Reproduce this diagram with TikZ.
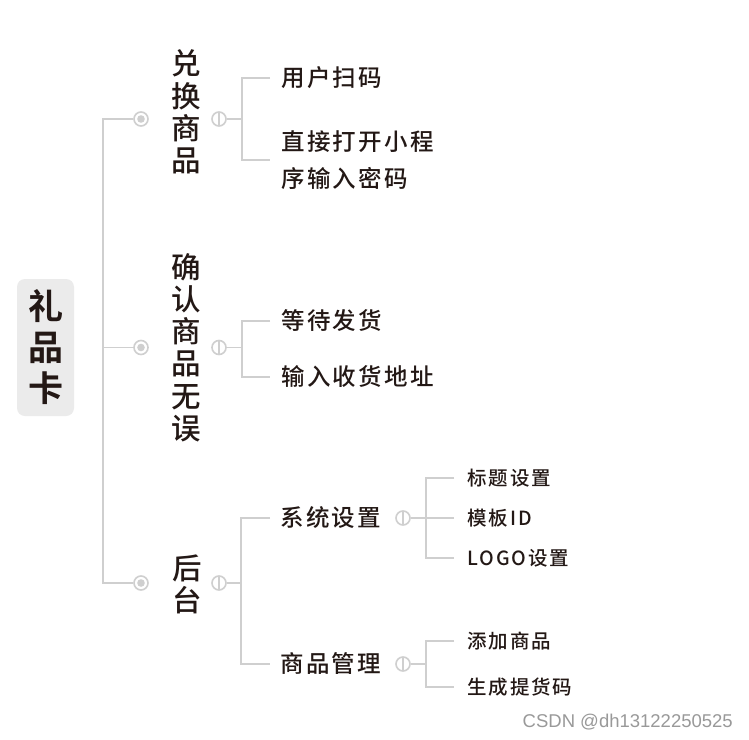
\documentclass[tikz,border=0pt]{standalone}
\usepackage{fontspec}
\setmainfont{Liberation Sans}
\newfontfamily\cjk{Noto Sans CJK SC}[UprightFont={* Medium}, BoldFont={* Bold}]
\newfontfamily\cjkwide{Noto Sans CJK SC}[UprightFont={* Medium}, LetterSpace=10]
\newfontfamily\cjksmall{Noto Sans CJK SC}[UprightFont={* Medium}, LetterSpace=10]
\usetikzlibrary{calc}
\definecolor{ink}{HTML}{231815}
\definecolor{linegray}{HTML}{CFCFCF}
\definecolor{rootgray}{HTML}{EBEBEB}
\definecolor{wmgray}{HTML}{999999}

\begin{document}
\begin{tikzpicture}[x=1pt,y=-1pt,
    link/.style={draw=linegray, line width=1.6pt},
    dotmark/.style={circle, draw=linegray, line width=1.6pt, fill=white, minimum size=14pt, inner sep=0pt,
        path picture={\fill[linegray] (path picture bounding box.center) circle (3.8pt);}},
    foldmark/.style={circle, draw=linegray, line width=1.6pt, fill=white, minimum size=14pt, inner sep=0pt,
        path picture={\draw[linegray, line width=1.6pt] (path picture bounding box.north) -- (path picture bounding box.south);}},
    rootbox/.style={fill=rootgray, rounded corners=8pt, minimum width=57pt, minimum height=137pt, inner sep=0pt,
        align=center, text=ink, font=\cjk\bfseries\fontsize{35pt}{41pt}\selectfont},
    branch/.style={inner sep=0pt, align=center, text=ink, font=\cjk\fontsize{29.5pt}{32.2pt}\selectfont},
    leaf/.style={anchor=west, inner sep=0pt, align=left, text=ink, font=\cjkwide\fontsize{23.5pt}{37pt}\selectfont},
    subleaf/.style={anchor=west, inner sep=0pt, text=ink, font=\cjksmall\fontsize{19.5pt}{22pt}\selectfont}]

    \fill[white] (0,0) rectangle (749,739);
    \useasboundingbox (0,0) rectangle (749,739);

    % Root
    \node[rootbox] (root) at (45.5,347.5) {礼\\品\\卡};

    % Main branches
    \node[branch] (exch) at (186.5,112) {兑\\换\\商\\品};
    \node[branch] (conf) at (186.5,347.5) {确\\认\\商\\品\\无\\误};
    \node[branch] (back) at (187.5,584) {后\\台};

    % Markers
    \node[dotmark] (exchdot) at (141,119) {};
    \node[dotmark] (confdot) at (141,347.5) {};
    \node[dotmark] (backdot) at (141,583) {};
    \node[foldmark] (exchfold) at (219,119) {};
    \node[foldmark] (conffold) at (219,347.5) {};
    \node[foldmark] (backfold) at (219,583) {};

    % Trunk
    \coordinate (trunktop) at (103,119);
    \coordinate (trunkbot) at (103,583);
    \draw[link] (exchdot) -- (trunktop) -- (trunkbot) -- (backdot);
    \draw[link] (confdot) -- (confdot -| trunktop);

    % Exchange goods
    \node[leaf] (scan) at (281,78) {用户扫码};
    \node[leaf] (open) at (281,160) {直接打开小程\\序输入密码};
    \coordinate (exchbr) at (242,119);
    \draw[link] (exchfold) -- (exchbr);
    \draw[link] ([xshift=-11pt]scan.west) -| (exchbr) |- ([xshift=-11pt]open.west);

    % Confirm goods
    \node[leaf] (wait) at (281,321) {等待发货};
    \node[leaf] (addr) at (281,377) {输入收货地址};
    \coordinate (confbr) at (242,347.5);
    \draw[link] (conffold) -- (confbr);
    \draw[link] ([xshift=-11pt]wait.west) -| (confbr) |- ([xshift=-11pt]addr.west);

    % Backend
    \node[leaf] (sys) at (280,518) {系统设置};
    \node[leaf] (goods) at (280,664) {商品管理};
    \coordinate (backbr) at (241,583);
    \draw[link] (backfold) -- (backbr);
    \draw[link] ([xshift=-10pt]sys.west) -| (backbr) |- ([xshift=-10pt]goods.west);

    % System settings
    \node[foldmark] (sysfold) at (403,518) {};
    \node[subleaf] (title) at (467,478) {标题设置};
    \node[subleaf] (tmpl) at (467,518) {模板ID};
    \node[subleaf] (logo) at (467,558) {LOGO设置};
    \coordinate (sysbr) at (426,518);
    \draw[link] (sysfold) -- ([xshift=-13pt]tmpl.west);
    \draw[link] ([xshift=-13pt]title.west) -| (sysbr) |- ([xshift=-13pt]logo.west);

    % Goods management
    \node[foldmark] (goodsfold) at (403,664) {};
    \node[subleaf] (add) at (467,641) {添加商品};
    \node[subleaf] (code) at (467,687) {生成提货码};
    \coordinate (goodsbr) at (426,664);
    \draw[link] (goodsfold) -- (goodsbr);
    \draw[link] ([xshift=-13pt]add.west) -| (goodsbr) |- ([xshift=-13pt]code.west);

    % Watermark
    \node[anchor=east, inner sep=0pt, text=wmgray, font=\fontsize{18.5pt}{20pt}\selectfont] (mark) at (733,722) {CSDN @dh13122250525};

\end{tikzpicture}
\end{document}
